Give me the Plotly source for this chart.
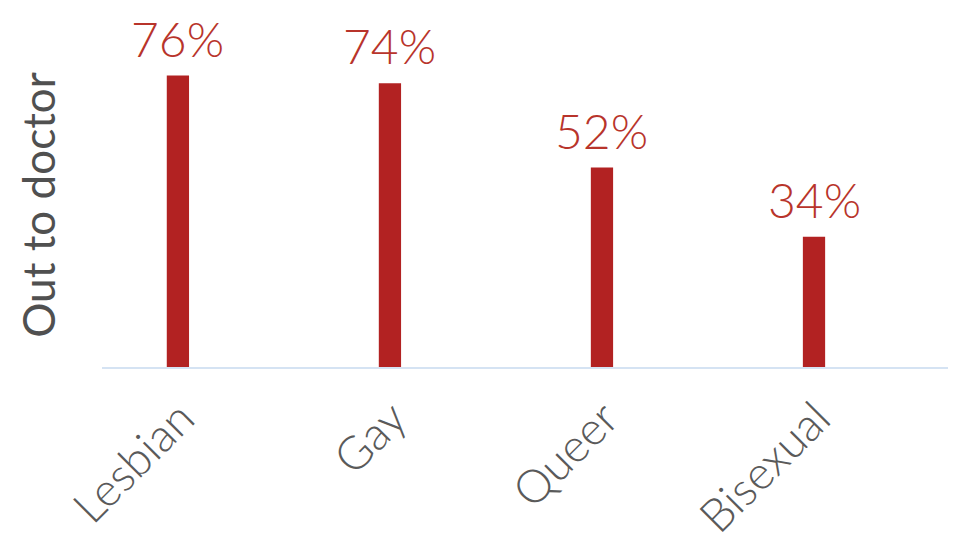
import plotly.graph_objects as go

categories = ["Lesbian", "Gay", "Queer", "Bisexual"]
values = [76, 74, 52, 34]
labels = ["76%", "74%", "52%", "34%"]

BAR_COLOR = "#b22222"
TEXT_COLOR = "#b8342b"
GRAY = "#5a5a5a"
FONT = "Lato"

fig = go.Figure()
fig.add_trace(go.Bar(
    x=categories, y=values, width=0.105,
    marker=dict(color=BAR_COLOR, line=dict(width=0)),
    hoverinfo="skip",
))

for c, v, t in zip(categories, values, labels):
    fig.add_annotation(x=c, y=v, text=t, showarrow=False,
                       xref="x", yref="y", yanchor="bottom", yshift=7,
                       font=dict(family=FONT, size=48, color=TEXT_COLOR, weight=300))

fig.update_layout(
    width=956, height=541,
    margin=dict(l=94, r=16, t=35, b=182, autoexpand=False),
    paper_bgcolor="white", plot_bgcolor="white",
    showlegend=False,
    font=dict(family=FONT, color=GRAY),
)
fig.update_xaxes(
    range=[-0.358, 3.632], showgrid=False, zeroline=False,
    showline=True, linecolor="#d5e3f3", linewidth=2,
    tickangle=-45, tickfont=dict(family=FONT, size=46, color=GRAY, weight=300),
    ticklabelshift=3, ticklabelstandoff=4,
    ticks="", automargin=False,
)
fig.update_yaxes(
    range=[0, 84.5], showgrid=False, zeroline=False, showline=False,
    showticklabels=False, ticks="", automargin=False,
    title=dict(text="Out to doctor", font=dict(family=FONT, size=44, color="#505050", weight=400), standoff=31),
)

fig.write_html("out.html")
